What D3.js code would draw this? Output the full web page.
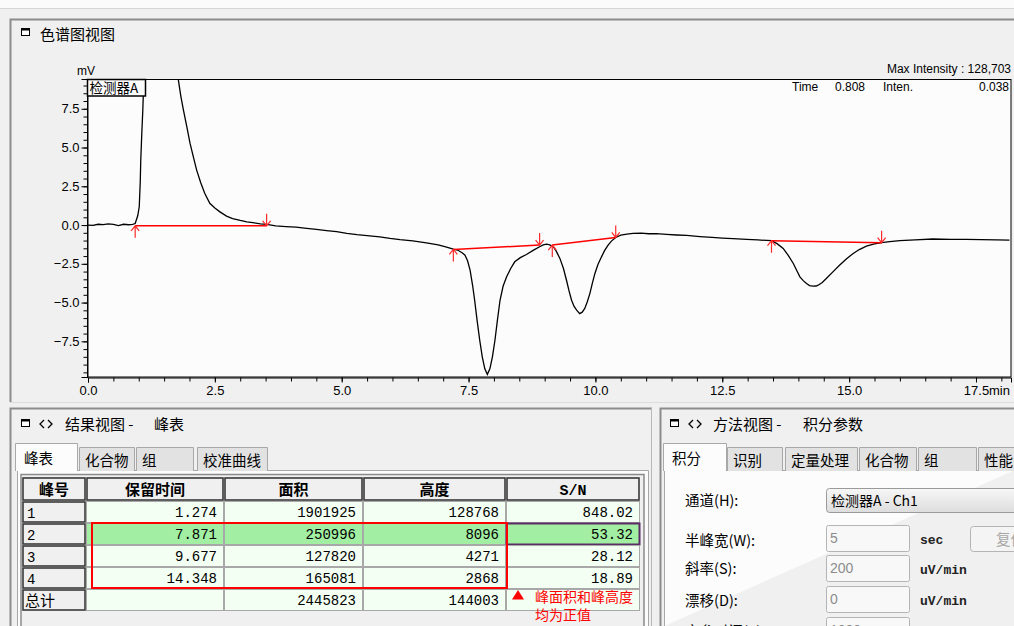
<!DOCTYPE html>
<html><head><meta charset="utf-8">
<script src="https://cdn.jsdelivr.net/npm/d3@7"></script>
<style>
html,body{margin:0;padding:0;background:#f0f0f0;overflow:hidden;}
svg{display:block;}
text{font-family:"Liberation Sans",Arial,sans-serif;}
.cjk{font-family:"Noto Sans CJK SC","Noto Sans",sans-serif;}
.mono{font-family:"Liberation Mono","DejaVu Sans Mono",monospace;}
</style></head><body>
<svg id="c" width="1014" height="626"></svg>
<script>
// ---------------- data ----------------
const timeMin = [0.00,0.10,0.20,0.30,0.40,0.50,0.60,0.70,0.80,0.88,0.93,0.98,1.01,1.03,1.04,1.06,1.08,1.10,1.15,1.20,1.274,1.35,1.45,1.55,1.65,1.72,1.78,1.83,1.88,1.95,2.01,2.08,2.14,2.22,2.30,2.40,2.50,2.60,2.73,2.85,3.00,3.13,3.25,3.40,3.52,3.70,3.90,4.10,4.31,4.50,4.70,4.90,5.10,5.30,5.50,5.75,5.95,6.15,6.40,6.67,6.90,7.05,7.20,7.30,7.38,7.43,7.48,7.53,7.58,7.62,7.67,7.72,7.77,7.82,7.87,7.92,7.97,8.02,8.07,8.12,8.18,8.25,8.33,8.41,8.52,8.64,8.78,8.90,8.97,9.04,9.10,9.17,9.23,9.30,9.37,9.43,9.48,9.53,9.58,9.63,9.69,9.74,9.79,9.84,9.89,9.94,9.99,10.05,10.12,10.18,10.25,10.32,10.40,10.50,10.62,10.74,10.90,11.05,11.20,11.40,11.60,11.80,12.06,12.30,12.50,12.71,12.98,13.20,13.47,13.58,13.70,13.80,13.90,13.97,14.03,14.10,14.16,14.22,14.29,14.35,14.39,14.47,14.55,14.68,14.81,14.95,15.08,15.20,15.34,15.50,15.64,15.80,16.00,16.30,16.65,17.00,17.31,17.60,17.90,18.16];
const signalMV = [0.00,-0.02,0.05,0.03,0.07,0.04,-0.03,0.05,0.02,0.05,0.10,0.60,1.18,2.80,4.20,5.90,7.40,9.40,30,85,128.7,105,62,35,18,12.5,9.37,8.30,7.43,6.30,5.28,4.35,3.56,2.75,2.05,1.40,1.10,0.85,0.58,0.42,0.30,0.21,0.15,0.08,0.04,-0.05,-0.10,-0.14,-0.21,-0.28,-0.36,-0.43,-0.54,-0.62,-0.68,-0.76,-0.86,-0.94,-1.02,-1.15,-1.28,-1.40,-1.55,-1.64,-1.80,-1.94,-2.30,-2.91,-3.90,-4.85,-6.20,-7.43,-8.50,-9.27,-9.63,-9.27,-8.50,-7.43,-6.10,-4.85,-3.95,-3.34,-2.80,-2.37,-2.10,-1.90,-1.62,-1.40,-1.28,-1.23,-1.28,-1.40,-1.70,-2.15,-2.80,-3.56,-4.25,-4.85,-5.25,-5.49,-5.71,-5.62,-5.38,-4.95,-4.42,-3.75,-3.12,-2.55,-2.05,-1.65,-1.29,-1.02,-0.80,-0.65,-0.58,-0.54,-0.52,-0.56,-0.55,-0.60,-0.64,-0.67,-0.74,-0.80,-0.84,-0.87,-0.92,-0.96,-1.01,-1.20,-1.51,-1.95,-2.48,-2.95,-3.34,-3.60,-3.77,-3.90,-3.94,-3.93,-3.88,-3.70,-3.45,-3.02,-2.59,-2.18,-1.83,-1.58,-1.36,-1.22,-1.14,-1.07,-1.01,-0.95,-0.90,-0.92,-0.92,-0.94,-0.95,-0.97];

const peakStartT  = [0.93, 7.20, 9.15, 13.47];
const peakStartMV = [-0.05, -1.57, -1.29, -1.01];
const peakEndT    = [3.52, 8.90, 10.40, 15.64];
const peakEndMV   = [-0.05, -1.29, -0.80, -1.14];

const yMajorTicks = [-7.5, -5.0, -2.5, 0.0, 2.5, 5.0, 7.5];
const xMajorTicks = [0, 2.5, 5, 7.5, 10, 12.5, 15, 17.5];

const tableHeaders = ["峰号","保留时间","面积","高度","S/N"];
const peakNo     = ["1","2","3","4"];
const retTime    = [1.274, 7.871, 9.677, 14.348];
const peakArea   = [1901925, 250996, 127820, 165081];
const peakHeight = [128768, 8096, 4271, 2868];
const peakSN     = [848.02, 53.32, 28.12, 18.89];
const totalArea = 2445823, totalHeight = 144003;

const leftTabs  = ["峰表","化合物","组","校准曲线"];
const rightTabs = ["积分","识别","定量处理","化合物","组","性能"];
const formLabels = ["通道(H):","半峰宽(W):","斜率(S):","漂移(D):","变参时间(T):"];
const formValues = ["5","200","0","1000"];
const formUnits  = ["sec","uV/min","uV/min","min"];

// ---------------- drawing ----------------
const svg = d3.select("#c");

svg.append("rect").attr("x",0).attr("y",0).attr("width",1014).attr("height",8).attr("fill","#fbfbfb");
svg.append("line").attr("x1",0).attr("x2",1014).attr("y1",8.5).attr("y2",8.5).attr("stroke","#d6d6d6");

function panelFrame(x0,y0,x1,y1){
  svg.append("path").attr("d",`M${x0+0.5},${y1} V${y0+0.5} H${x1}`)
    .attr("fill","none").attr("stroke","#8c8c8c").attr("stroke-width",2);
}
function winIcon(x,y){
  svg.append("rect").attr("x",x+0.5).attr("y",y+0.5).attr("width",8).attr("height",7).attr("fill","#fff").attr("stroke","#000");
  svg.append("rect").attr("x",x).attr("y",y).attr("width",9).attr("height",2.5).attr("fill","#000");
}
function chevrons(x,y){
  svg.append("path").attr("d",`M${x+4},${y-4} L${x},${y} L${x+4},${y+4} M${x+8},${y-4} L${x+12},${y} L${x+8},${y+4}`)
    .attr("fill","none").attr("stroke","#000").attr("stroke-width",1.3);
}
panelFrame(10,19,1014,402);
svg.append("line").attr("x1",10).attr("x2",1014).attr("y1",402.5).attr("y2",402.5).attr("stroke","#dcdcdc");
winIcon(21,28);
svg.append("text").attr("class","cjk").attr("x",40).attr("y",40).attr("font-size",15).attr("fill","#000").text("色谱图视图");

const x = d3.scaleLinear().domain([0,18.19]).range([88,1011]);
const y = d3.scaleLinear().domain([-9.8,9.42]).range([377,79]);

svg.append("rect").attr("x",87.5).attr("y",79.5).attr("width",923.5).attr("height",297.5)
  .attr("fill","#fcfcfc").attr("stroke","#000").attr("stroke-width",1);

svg.append("clipPath").attr("id","clip").append("rect")
  .attr("x",88).attr("y",80).attr("width",923).attr("height",297);

const yAxis = svg.append("g").attr("transform","translate(87.5,0)")
  .call(d3.axisLeft(y).tickValues(yMajorTicks).tickSize(6).tickPadding(2).tickFormat(d3.format(".1f")));
const yMinor = svg.append("g").attr("transform","translate(87.5,0)")
  .call(d3.axisLeft(y).tickValues(d3.range(-9.5,9.01,0.5)).tickSize(4).tickFormat(""));
const xAxis = svg.append("g").attr("transform","translate(0,377.5)")
  .call(d3.axisBottom(x).tickValues(xMajorTicks).tickSize(5).tickPadding(3).tickFormat(d3.format(".1f")));
const xMinor = svg.append("g").attr("transform","translate(0,377.5)")
  .call(d3.axisBottom(x).tickValues(d3.range(0.5,18.1,0.5)).tickSize(4).tickFormat(""));
[yAxis,yMinor,xAxis,xMinor].forEach(g=>{
  g.select(".domain").attr("stroke","#000");
  g.selectAll(".tick line").attr("stroke","#000");
  g.selectAll("text").attr("font-family","'Liberation Sans',Arial,sans-serif").attr("font-size",13).attr("fill","#000");
});
yMinor.select(".domain").remove(); xMinor.select(".domain").remove();
svg.append("text").attr("x",989).attr("y",395).attr("font-size",13).text("min");

const pts = timeMin.map((t,i)=>[t,signalMV[i]]);
const gPlot = svg.append("g").attr("clip-path","url(#clip)");
gPlot.append("path").datum(pts)
  .attr("d",d3.line().x(d=>x(d[0])).y(d=>y(d[1])))
  .attr("fill","none").attr("stroke","#000").attr("stroke-width",1.3);

peakStartT.forEach((t,i)=>{
  gPlot.append("line").attr("x1",x(t)).attr("y1",y(peakStartMV[i]))
    .attr("x2",x(peakEndT[i])).attr("y2",y(peakEndMV[i]))
    .attr("stroke","#ff0000").attr("stroke-width",1.5);
});
function arrow(t,v,dir){
  const ax=x(t), ay=y(v), s = dir==="up"?1:-1;
  gPlot.append("path")
    .attr("d",`M${ax},${ay} V${ay+12*s} M${ax-4},${ay+5*s} L${ax},${ay} L${ax+4},${ay+5*s}`)
    .attr("fill","none").attr("stroke","#ff2a2a").attr("stroke-width",1.2);
}
peakStartT.forEach((t,i)=>arrow(t,peakStartMV[i],"up"));
peakEndT.forEach((t,i)=>arrow(t,peakEndMV[i],"down"));

svg.append("rect").attr("x",87.5).attr("y",79.5).attr("width",58).attr("height",16.5)
  .attr("fill","#fcfcfc").attr("stroke","#000").attr("stroke-width",1.5);
svg.append("text").attr("class","cjk").attr("x",89.5).attr("y",93).attr("font-size",13.5).text("检测器A");

svg.append("text").attr("x",77).attr("y",75).attr("font-size",12).text("mV");
svg.append("text").attr("x",1011).attr("y",73).attr("font-size",12).attr("text-anchor","end").text("Max Intensity : 128,703");
svg.append("text").attr("x",792).attr("y",91).attr("font-size",12).text("Time");
svg.append("text").attr("x",835).attr("y",91).attr("font-size",12).text("0.808");
svg.append("text").attr("x",883).attr("y",91).attr("font-size",12).text("Inten.");
svg.append("text").attr("x",1009).attr("y",91).attr("font-size",12).attr("text-anchor","end").text("0.038");

// ---------- bottom-left panel ----------
panelFrame(10,408,652,626);
svg.append("line").attr("x1",651.5).attr("x2",651.5).attr("y1",408).attr("y2",626).attr("stroke","#b8b8b8").attr("stroke-width",1);
winIcon(21,419);
chevrons(40,424);
svg.append("text").attr("class","cjk").attr("x",65).attr("y",430).attr("font-size",15).text("结果视图 -");
svg.append("text").attr("class","cjk").attr("x",154).attr("y",430).attr("font-size",15).text("峰表");

const leftTabX = [[15,78],[79,135],[136,194],[197,268]];
function drawTabs(tabs,pos){
  tabs.forEach((lab,i)=>{
    const [a,b]=pos[i]; const act = i===0;
    const top = act?443:447;
    svg.append("path").attr("d",`M${a+0.5},471 V${top+0.5} H${b-0.5} V471`)
      .attr("fill",act?"#fcfcfc":"#e2e2e2").attr("stroke","#a8a8a8");
    svg.append("text").attr("class","cjk").attr("x",a+(act?9:6)).attr("y",act?464:466)
      .attr("font-size",14.5).text(lab);
  });
}
svg.append("path").attr("d","M17.5,626 V470.5 H648.5 V626").attr("fill","#fcfcfc").attr("stroke","#a8a8a8");
drawTabs(leftTabs,leftTabX);
svg.append("line").attr("x1",16).attr("x2",77).attr("y1",470.5).attr("y2",470.5).attr("stroke","#fcfcfc");

svg.append("rect").attr("x",21).attr("y",474.5).attr("width",623).attr("height",160)
  .attr("fill","#f0f0f0").attr("stroke","#8a8a8a").attr("stroke-width",1.5);

const colX = [22, 86, 224, 363, 506, 640];
const rowY = [477, 501, 523, 545, 567, 589, 611];
function btnCell(x0,y0,x1,y1){
  svg.append("rect").attr("x",x0+1).attr("y",y0+1).attr("width",x1-x0-2).attr("height",y1-y0-2)
    .attr("fill","#f0f0f0").attr("stroke","#3a3a3a").attr("stroke-width",1.6);
}
tableHeaders.forEach((h,i)=>{
  btnCell(colX[i],rowY[0],colX[i+1],rowY[1]);
  svg.append("text").attr("class",i===4?"mono":"cjk").attr("x",(colX[i]+colX[i+1])/2).attr("y",rowY[0]+18)
    .attr("font-size",15).attr("font-weight","bold").attr("text-anchor","middle").text(h);
});
const fmt3=d3.format(".3f"), fmt2=d3.format(".2f"), fmt0=d3.format("d");
const rows = peakNo.map((p,i)=>[p, fmt3(retTime[i]), fmt0(peakArea[i]), fmt0(peakHeight[i]), fmt2(peakSN[i])]);
rows.push(["总计","",fmt0(totalArea),fmt0(totalHeight),""]);
rows.forEach((r,ri)=>{
  const y0=rowY[ri+1], y1=rowY[ri+2];
  btnCell(colX[0],y0,colX[1],y1);
  svg.append("text").attr("class",ri===4?"cjk":"mono").attr("x",colX[0]+(ri===4?3:5)).attr("y",y0+17)
    .attr("font-size",ri===4?15:14).text(r[0]);
  for(let c=1;c<5;c++){
    const sel = ri===1;
    svg.append("rect").attr("x",colX[c]+0.5).attr("y",y0+0.5).attr("width",colX[c+1]-colX[c]-1).attr("height",y1-y0-1)
      .attr("fill",sel?"#a2eea2":"#f2fff2").attr("stroke",(sel&&c===4)?"#5b2e66":"#a8a8a8")
      .attr("stroke-width",(sel&&c===4)?2:1);
    svg.append("text").attr("class","mono").attr("x",colX[c+1]-7).attr("y",y0+16)
      .attr("font-size",14).attr("text-anchor","end").text(r[c]);
  }
});
svg.append("rect").attr("x",92).attr("y",523).attr("width",415).attr("height",65)
  .attr("fill","none").attr("stroke","#ff0000").attr("stroke-width",2);
svg.append("path").attr("d","M518,590 L512,599.5 L524,599.5 Z").attr("fill","#ff0000");
svg.append("text").attr("class","cjk").attr("x",535).attr("y",602).attr("font-size",14).attr("fill","#ff0000").text("峰面积和峰高度");
svg.append("text").attr("class","cjk").attr("x",535).attr("y",620).attr("font-size",14).attr("fill","#ff0000").text("均为正值");

// ---------- bottom-right panel ----------
panelFrame(660,408,1014,626);
winIcon(670,419);
chevrons(689,424);
svg.append("text").attr("class","cjk").attr("x",713).attr("y",430).attr("font-size",15).text("方法视图 -");
svg.append("text").attr("class","cjk").attr("x",803).attr("y",430).attr("font-size",15).text("积分参数");
svg.append("path").attr("d","M664.5,626 V470.5 H1014").attr("fill","#fcfcfc").attr("stroke","#a8a8a8");
const rightTabX = [[663,727],[727,783],[785,858],[859,917],[918,977],[978,1040]];
drawTabs(rightTabs,rightTabX);
svg.append("line").attr("x1",664).attr("x2",726).attr("y1",470.5).attr("y2",470.5).attr("stroke","#fcfcfc");

const labelBase = [506,546,574,606,637];
formLabels.forEach((l,i)=>{
  svg.append("text").attr("class","cjk").attr("x",685).attr("y",labelBase[i]).attr("font-size",14.5).text(l);
});
const grad = svg.append("defs").append("linearGradient").attr("id","sg").attr("x1",0).attr("x2",0).attr("y1",0).attr("y2",1);
grad.append("stop").attr("offset","0%").attr("stop-color","#f7f7f7");
grad.append("stop").attr("offset","100%").attr("stop-color","#dddddd");
svg.append("rect").attr("x",826.5).attr("y",488.5).attr("width",200).attr("height",24).attr("rx",3)
  .attr("fill","url(#sg)").attr("stroke","#9a9a9a");
svg.append("text").attr("class","cjk").attr("x",831).attr("y",506).attr("font-size",14).text("检测器A - Ch1");
const inputY = [525,555,586,617];
formValues.forEach((v,i)=>{
  svg.append("rect").attr("x",826.5).attr("y",inputY[i]+0.5).attr("width",83).attr("height",26).attr("rx",2)
    .attr("fill","#f8f8f8").attr("stroke","#b4b4b4");
  svg.append("text").attr("x",830).attr("y",inputY[i]+18).attr("font-size",14).attr("fill","#8c8c8c").text(v);
  svg.append("text").attr("class","mono").attr("x",920).attr("y",inputY[i]+19).attr("font-size",13)
    .attr("font-weight","bold").attr("fill","#222").text(formUnits[i]);
});
svg.append("rect").attr("x",970.5).attr("y",526.5).attr("width",60).attr("height",25).attr("rx",3)
  .attr("fill","#f4f4f4").attr("stroke","#b4b4b4");
svg.append("text").attr("class","cjk").attr("x",996).attr("y",545).attr("font-size",14.5).attr("fill","#a8a8a8").text("复位");
</script>
</body></html>
